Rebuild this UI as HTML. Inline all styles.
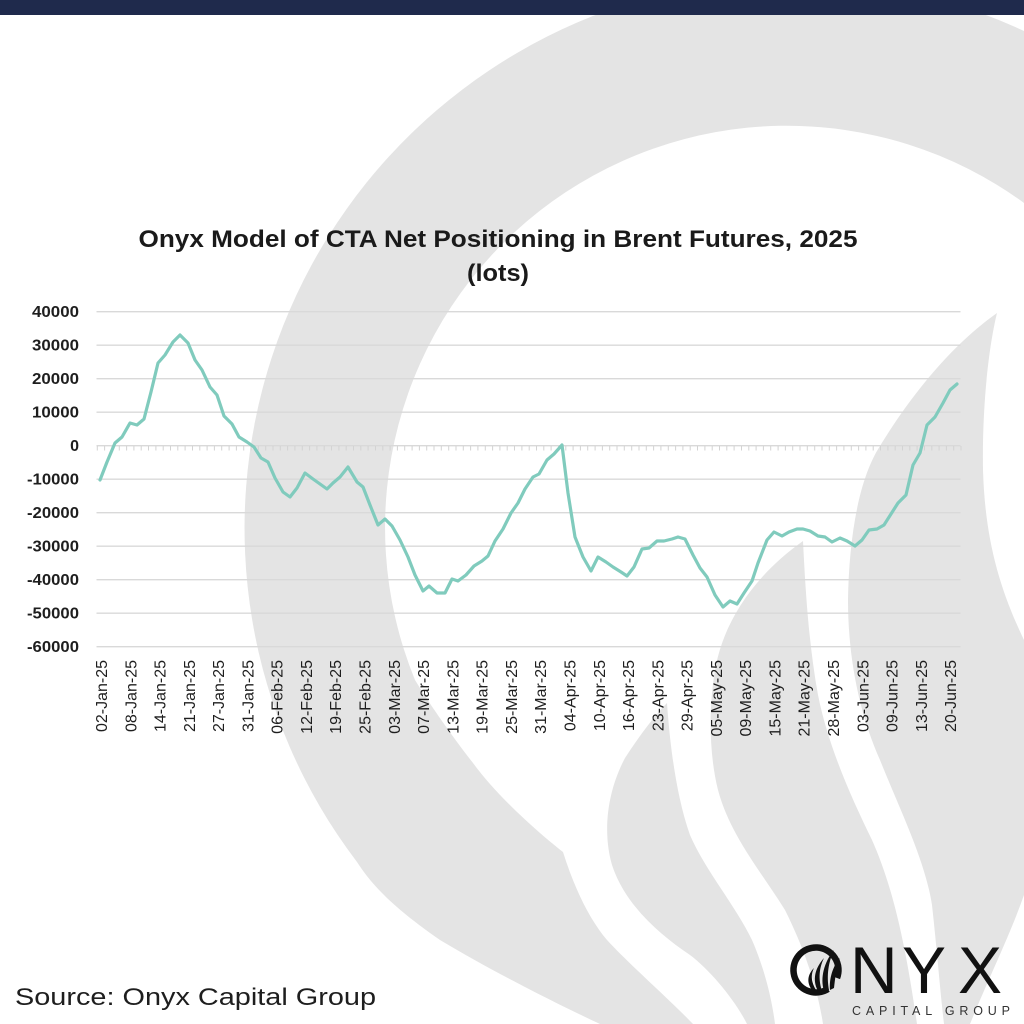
<!DOCTYPE html>
<html>
<head>
<meta charset="utf-8">
<style>
  html,body{margin:0;padding:0;background:#ffffff;}
  body{width:1024px;height:1024px;overflow:hidden;}
  svg{display:block;}
  .yl{font-family:"Liberation Sans",sans-serif;font-weight:bold;font-size:16px;fill:#1e1e1e;}
  .xl{font-family:"Liberation Sans",sans-serif;font-size:16px;fill:#1e1e1e;}
</style>
</head>
<body>
<svg width="1024" height="1024" viewBox="0 0 1024 1024" xmlns="http://www.w3.org/2000/svg">
  <!-- background logo shapes -->
  <rect x="0" y="0" width="1024" height="1024" fill="#ffffff"/>
  <path d="M 600 1024 C 570 1010, 500 976, 440 940 C 400 912, 375 890, 357 862 A 551 551 0 0 1 639.4 0 L 940.6 0 A 551 551 0 0 1 1024 31 L 1024 1024 Z" fill="#e4e4e4"/>
  <path d="M 415 680 A 402 402 0 0 1 1024 203 L 1024 1024 L 693 1024 C 670 1000, 630 965, 607 940 C 590 920, 575 890, 563 852 C 545 838, 500 800, 473 763 C 455 740, 430 705, 415 680 Z" fill="#ffffff"/>
  <!-- flame A -->
  <path d="M 667 703 C 669 730, 674 790, 690 835 C 705 870, 735 905, 752 940 C 765 970, 772 1000, 775 1024 L 747 1024 C 735 1000, 710 970, 690 955 C 660 935, 625 905, 612 865 C 602 830, 608 790, 625 758 C 640 735, 655 715, 667 703 Z" fill="#e4e4e4"/>
  <!-- flame B -->
  <path d="M 803 541 C 805 580, 808 640, 818 695 C 828 745, 850 795, 872 840 C 892 885, 905 940, 917 1024 L 823 1024 C 818 990, 805 950, 785 910 C 760 870, 730 835, 718 790 C 708 750, 709 700, 716 665 C 725 620, 755 575, 803 541 Z" fill="#e4e4e4"/>
  <!-- flame C -->
  <path d="M 997 313 C 988 350, 982 410, 983 470 C 985 540, 1000 590, 1024 640 L 1024 895 C 1010 935, 990 975, 970 1024 L 944 1024 C 940 990, 937 950, 932 905 C 925 860, 900 810, 880 760 C 860 715, 848 660, 848 600 C 849 540, 858 480, 880 446 C 905 405, 945 350, 997 313 Z" fill="#e4e4e4"/>

  <!-- top bar -->
  <rect x="0" y="0" width="1024" height="15" fill="#1f2a4c"/>

  <!-- title -->
  <text x="498" y="247" text-anchor="middle" textLength="719" lengthAdjust="spacingAndGlyphs" style="font-family:'Liberation Sans',sans-serif;font-weight:bold;font-size:24px;fill:#1a1a1a;">Onyx Model of CTA Net Positioning in Brent Futures, 2025</text>
  <text x="498" y="281" text-anchor="middle" textLength="62" lengthAdjust="spacingAndGlyphs" style="font-family:'Liberation Sans',sans-serif;font-weight:bold;font-size:24px;fill:#1a1a1a;">(lots)</text>

  <!-- gridlines -->
  <g stroke="#d9d9d9" stroke-width="1.3">
    <line x1="96.5" y1="311.7" x2="960.5" y2="311.7"/>
    <line x1="96.5" y1="345.2" x2="960.5" y2="345.2"/>
    <line x1="96.5" y1="378.7" x2="960.5" y2="378.7"/>
    <line x1="96.5" y1="412.2" x2="960.5" y2="412.2"/>
    <line x1="96.5" y1="445.7" x2="960.5" y2="445.7"/>
    <line x1="96.5" y1="479.2" x2="960.5" y2="479.2"/>
    <line x1="96.5" y1="512.7" x2="960.5" y2="512.7"/>
    <line x1="96.5" y1="546.2" x2="960.5" y2="546.2"/>
    <line x1="96.5" y1="579.7" x2="960.5" y2="579.7"/>
    <line x1="96.5" y1="613.2" x2="960.5" y2="613.2"/>
    <line x1="96.5" y1="646.7" x2="960.5" y2="646.7"/>
  </g>
  <!-- axis ticks at zero -->
  <path stroke="#d3d3d3" stroke-width="1" fill="none" d="M97.3 446v4.5M104.6 446v4.5M111.9 446v4.5M119.3 446v4.5M126.6 446v4.5M133.9 446v4.5M141.2 446v4.5M148.5 446v4.5M155.9 446v4.5M163.2 446v4.5M170.5 446v4.5M177.8 446v4.5M185.1 446v4.5M192.5 446v4.5M199.8 446v4.5M207.1 446v4.5M214.4 446v4.5M221.7 446v4.5M229.1 446v4.5M236.4 446v4.5M243.7 446v4.5M251 446v4.5M258.3 446v4.5M265.7 446v4.5M273 446v4.5M280.3 446v4.5M287.6 446v4.5M294.9 446v4.5M302.3 446v4.5M309.6 446v4.5M316.9 446v4.5M324.2 446v4.5M331.5 446v4.5M338.9 446v4.5M346.2 446v4.5M353.5 446v4.5M360.8 446v4.5M368.1 446v4.5M375.5 446v4.5M382.8 446v4.5M390.1 446v4.5M397.4 446v4.5M404.7 446v4.5M412.1 446v4.5M419.4 446v4.5M426.7 446v4.5M434 446v4.5M441.3 446v4.5M448.7 446v4.5M456 446v4.5M463.3 446v4.5M470.6 446v4.5M477.9 446v4.5M485.3 446v4.5M492.6 446v4.5M499.9 446v4.5M507.2 446v4.5M514.5 446v4.5M521.9 446v4.5M529.2 446v4.5M536.5 446v4.5M543.8 446v4.5M551.1 446v4.5M558.5 446v4.5M565.8 446v4.5M573.1 446v4.5M580.4 446v4.5M587.7 446v4.5M595.1 446v4.5M602.4 446v4.5M609.7 446v4.5M617 446v4.5M624.3 446v4.5M631.7 446v4.5M639 446v4.5M646.3 446v4.5M653.6 446v4.5M660.9 446v4.5M668.3 446v4.5M675.6 446v4.5M682.9 446v4.5M690.2 446v4.5M697.5 446v4.5M704.9 446v4.5M712.2 446v4.5M719.5 446v4.5M726.8 446v4.5M734.1 446v4.5M741.5 446v4.5M748.8 446v4.5M756.1 446v4.5M763.4 446v4.5M770.7 446v4.5M778.1 446v4.5M785.4 446v4.5M792.7 446v4.5M800 446v4.5M807.3 446v4.5M814.7 446v4.5M822 446v4.5M829.3 446v4.5M836.6 446v4.5M843.9 446v4.5M851.3 446v4.5M858.6 446v4.5M865.9 446v4.5M873.2 446v4.5M880.5 446v4.5M887.9 446v4.5M895.2 446v4.5M902.5 446v4.5M909.8 446v4.5M917.1 446v4.5M924.5 446v4.5M931.8 446v4.5M939.1 446v4.5M946.4 446v4.5M953.7 446v4.5M961 446v4.5"/>

  <!-- y labels -->
  <g class="yl" text-anchor="end">
    <text x="79" y="317.2" textLength="47" lengthAdjust="spacingAndGlyphs">40000</text>
    <text x="79" y="350.7" textLength="47" lengthAdjust="spacingAndGlyphs">30000</text>
    <text x="79" y="384.2" textLength="47" lengthAdjust="spacingAndGlyphs">20000</text>
    <text x="79" y="417.7" textLength="47" lengthAdjust="spacingAndGlyphs">10000</text>
    <text x="79" y="451.2">0</text>
    <text x="79" y="484.7" textLength="52" lengthAdjust="spacingAndGlyphs">-10000</text>
    <text x="79" y="518.2" textLength="52" lengthAdjust="spacingAndGlyphs">-20000</text>
    <text x="79" y="551.7" textLength="52" lengthAdjust="spacingAndGlyphs">-30000</text>
    <text x="79" y="585.2" textLength="52" lengthAdjust="spacingAndGlyphs">-40000</text>
    <text x="79" y="618.7" textLength="52" lengthAdjust="spacingAndGlyphs">-50000</text>
    <text x="79" y="652.2" textLength="52" lengthAdjust="spacingAndGlyphs">-60000</text>
  </g>

  <!-- x labels -->
  <g class="xl" text-anchor="end">
    <text transform="translate(107,660) rotate(-90)">02-Jan-25</text>
    <text transform="translate(136.3,660) rotate(-90)">08-Jan-25</text>
    <text transform="translate(165.6,660) rotate(-90)">14-Jan-25</text>
    <text transform="translate(194.8,660) rotate(-90)">21-Jan-25</text>
    <text transform="translate(224.1,660) rotate(-90)">27-Jan-25</text>
    <text transform="translate(253.4,660) rotate(-90)">31-Jan-25</text>
    <text transform="translate(282.7,660) rotate(-90)">06-Feb-25</text>
    <text transform="translate(312,660) rotate(-90)">12-Feb-25</text>
    <text transform="translate(341.2,660) rotate(-90)">19-Feb-25</text>
    <text transform="translate(370.5,660) rotate(-90)">25-Feb-25</text>
    <text transform="translate(399.8,660) rotate(-90)">03-Mar-25</text>
    <text transform="translate(429.1,660) rotate(-90)">07-Mar-25</text>
    <text transform="translate(458.4,660) rotate(-90)">13-Mar-25</text>
    <text transform="translate(487.6,660) rotate(-90)">19-Mar-25</text>
    <text transform="translate(516.9,660) rotate(-90)">25-Mar-25</text>
    <text transform="translate(546.2,660) rotate(-90)">31-Mar-25</text>
    <text transform="translate(575.5,660) rotate(-90)">04-Apr-25</text>
    <text transform="translate(604.8,660) rotate(-90)">10-Apr-25</text>
    <text transform="translate(634,660) rotate(-90)">16-Apr-25</text>
    <text transform="translate(663.3,660) rotate(-90)">23-Apr-25</text>
    <text transform="translate(692.6,660) rotate(-90)">29-Apr-25</text>
    <text transform="translate(721.9,660) rotate(-90)">05-May-25</text>
    <text transform="translate(751.2,660) rotate(-90)">09-May-25</text>
    <text transform="translate(780.4,660) rotate(-90)">15-May-25</text>
    <text transform="translate(809.7,660) rotate(-90)">21-May-25</text>
    <text transform="translate(839,660) rotate(-90)">28-May-25</text>
    <text transform="translate(868.3,660) rotate(-90)">03-Jun-25</text>
    <text transform="translate(897.6,660) rotate(-90)">09-Jun-25</text>
    <text transform="translate(926.8,660) rotate(-90)">13-Jun-25</text>
    <text transform="translate(956.1,660) rotate(-90)">20-Jun-25</text>
  </g>

  <!-- data line -->
  <polyline fill="none" stroke="#80cbbd" stroke-width="3.2" stroke-linejoin="round" stroke-linecap="round"
    points="100,480 107,462 115,443 122,437 130,423 137,425 144,419 151,392 158,363 165,355 173,342 180,335 188,343 195,360 202,370 210,387 217,395 224,416 232,424 239,437 247,442 254,447 261,458 268,462 275,478 283,492 290,497 297,488 305,473 313,479 320,484 327,489 333,483 340,477 348,467 357,482 363,487 370,505 378,525 385,519 392,526 400,540 408,557 415,575 423,591 429,586 437,593 445,593 452,579 458,581 466,575 474,566 482,561 488,556 495,541 503,529 511,513 518,503 525,489 533,477 539,474 547,460 554,454 562,445 568,493 575,537 583,557 591,571 598,557 606,562 613,567 621,572 627,576 634,567 642,549 649,548 657,541 664,541 672,539 678,537 685,539 693,555 700,568 707,577 715,595 723,607 730,601 737,604 744,593 752,581 758,563 767,540 774,532 782,536 789,532 797,529 803,529 810,531 818,536 825,537 832,542 840,538 847,541 855,546 862,540 869,530 877,529 884,525 891,514 898,503 906,495 913,465 920,453 927,425 935,417 943,403 950,390 957,384"/>

  <!-- source -->
  <text x="15" y="1005" textLength="361" lengthAdjust="spacingAndGlyphs" style="font-family:'Liberation Sans',sans-serif;font-size:24px;fill:#1e1e1e;">Source: Onyx Capital Group</text>

  <!-- ONYX logo -->
  <g>
    <path d="M 828 989 A 22.5 22.5 0 1 1 837 978" fill="none" stroke="#111" stroke-width="6.5"/>
    <path d="M 812 990 C 806 982, 808 974, 814 968 C 810 976, 812 983, 816 990 Z" fill="#111"/>
    <path d="M 818 991 C 812 980, 815 968, 824 958 C 818 970, 819 982, 822 991 Z" fill="#111"/>
    <path d="M 824 991 C 820 978, 824 962, 834 950 C 827 965, 827 979, 829 990 Z" fill="#111"/>
    <path d="M 830 990 C 829 978, 833 966, 840 958 C 836 968, 835 980, 834 988 Z" fill="#111"/>
  </g>
  <text y="993" x="850 902 958" style="font-family:'Liberation Sans',sans-serif;font-size:66px;fill:#111;">NYX</text>
  <text x="852" y="1015" textLength="158" lengthAdjust="spacing" style="font-family:'Liberation Sans',sans-serif;font-size:12.5px;fill:#333;">CAPITAL GROUP</text>
</svg>
</body>
</html>
